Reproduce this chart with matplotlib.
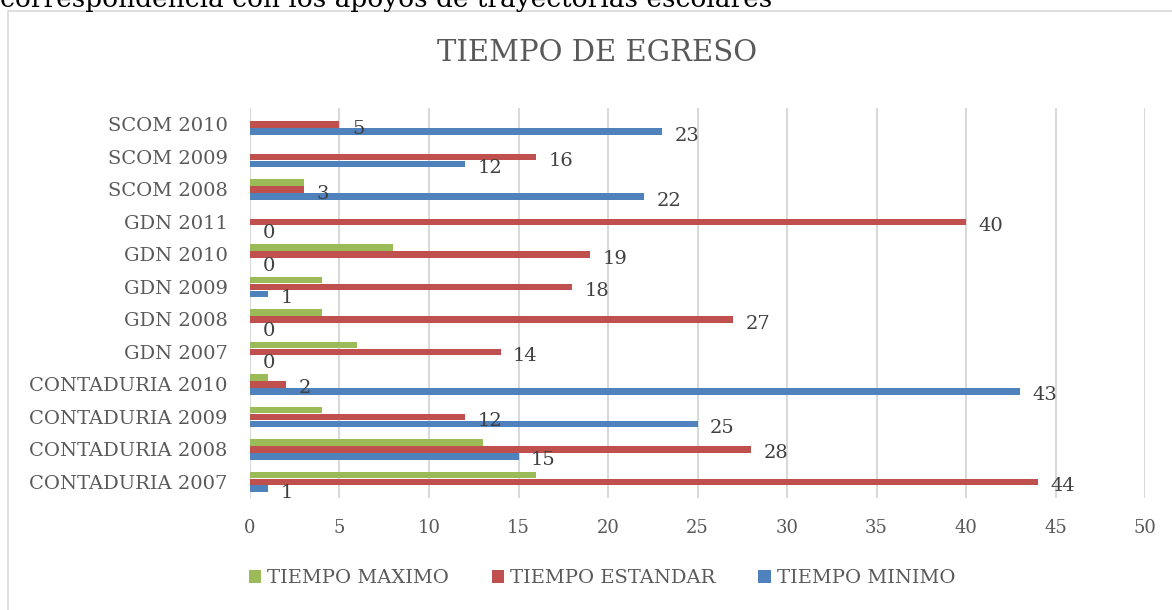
import numpy as np
import matplotlib
matplotlib.use("Agg")
from matplotlib import pyplot as plt
from matplotlib.patches import Rectangle

# datos
categorias = ["CONTADURIA 2007", "CONTADURIA 2008", "CONTADURIA 2009", "CONTADURIA 2010",
              "GDN 2007", "GDN 2008", "GDN 2009", "GDN 2010", "GDN 2011",
              "SCOM 2008", "SCOM 2009", "SCOM 2010"]
tiempo_maximo = [16, 13, 4, 1, 6, 4, 4, 8, 0, 3, 0, 0]
tiempo_estandar = [44, 28, 12, 2, 14, 27, 18, 19, 40, 3, 16, 5]
tiempo_minimo = [1, 15, 25, 43, 0, 0, 1, 0, 0, 22, 12, 23]
ticks_x = [0, 5, 10, 15, 20, 25, 30, 35, 40, 45, 50]

plt.rcParams['font.family'] = ['DejaVu Serif']

fig = plt.figure(figsize=(11.72, 6.10), dpi=100)
ax = fig.add_axes([0.2133, 0.1836, 0.7637, 0.639])

# marco del grafico y texto cortado de arriba
fig.patches.append(Rectangle((8 / 1172, -0.01), 1.0, 1 - 11 / 610 + 0.01,
                             transform=fig.transFigure, fill=False,
                             edgecolor='#d9d9d9', linewidth=1.2))
fig.text(0.0, 1 - 7 / 610, "correspondencia con los apoyos de trayectorias escolares",
         fontsize=19, color='black', va='baseline', ha='left')

y = np.arange(len(categorias))
off = 0.215
h = 0.2
verde, rojo, azul = '#9bbb59', '#c0504d', '#4f81bd'

ax.barh(y + off, tiempo_maximo, height=h, color=verde, label='TIEMPO MAXIMO', zorder=3)
ax.barh(y, tiempo_estandar, height=h, color=rojo, label='TIEMPO ESTANDAR', zorder=3)
ax.barh(y - off, tiempo_minimo, height=h, color=azul, label='TIEMPO MINIMO', zorder=3)

# etiquetas de datos (estandar y minimo)
for vals, dy in ((tiempo_estandar, 0.0), (tiempo_minimo, -off)):
    for yi, v in zip(y, vals):
        ax.annotate(str(v), (v, yi + dy), xytext=(9, -3), textcoords='offset points',
                    ha='left', va='center', fontsize=14, color='#404040', zorder=4)

ax.set_xlim(0, 50)
ax.set_ylim(-0.5, len(categorias) - 0.5)
ax.set_xticks(ticks_x)
ax.set_yticks(y)
ax.set_yticklabels(categorias)
ax.tick_params(axis='x', length=0, pad=15, labelsize=13, labelcolor='#595959')
ax.tick_params(axis='y', length=0, pad=16, labelsize=14, labelcolor='#595959')
ax.grid(axis='x', color='#d9d9d9', linewidth=1.5, zorder=0)
for s in ax.spines.values():
    s.set_visible(False)

fig.text(597 / 1172, 1 - 53 / 610, "TIEMPO DE EGRESO", fontsize=21, color='#595959',
         ha='center', va='center')

fig.legend(loc='center', bbox_to_anchor=(602 / 1172, 1 - 578 / 610), ncol=3, frameon=False,
           fontsize=14, labelcolor='#595959', handlelength=0.65, handleheight=0.65,
           handletextpad=0.3, columnspacing=2.2)

plt.savefig('out.png', dpi=100)
